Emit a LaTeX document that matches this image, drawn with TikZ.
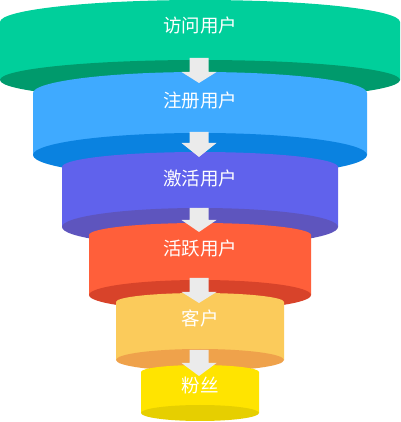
\documentclass[tikz,border=0pt]{standalone}
\usepackage{fontspec}
\usepackage{tikz}
\usepackage{xcolor}
\newfontfamily\cjk{Noto Sans CJK SC}
\definecolor{green}{HTML}{00CF9B}
\definecolor{greendark}{HTML}{009A6C}
\definecolor{blue}{HTML}{3FAAFF}
\definecolor{bluedark}{HTML}{0A82E0}
\definecolor{purple}{HTML}{6062EC}
\definecolor{purpledark}{HTML}{5E55BE}
\definecolor{red}{HTML}{FF5F3A}
\definecolor{reddark}{HTML}{D8432A}
\definecolor{orange}{HTML}{FBCB5B}
\definecolor{orangedark}{HTML}{EFA24B}
\definecolor{yellow}{HTML}{FFE400}
\definecolor{yellowdark}{HTML}{E6CF00}
\definecolor{arrowgray}{HTML}{EBEBEB}
% #1 front, #2 underside, #3 half width, #4 top y, #5 top ry, #6 bottom y, #7 bottom ry
\newcommand{\funneltier}[7]{%
  \fill[#1] (200-#3,#4) arc[start angle=180,end angle=0,x radius=#3,y radius=#5]
    -- (200+#3,#6) -- (200-#3,#6) -- cycle;
  \fill[#2] (200,#6) ellipse[x radius=#3,y radius=#7];
}
% #1 shaft top, #2 head start, #3 tip
\newcommand{\funnelarrow}[3]{%
  \fill[arrowgray] (189.5,#1) -- (208.5,#1) -- (208.5,#2) -- (216.5,#2)
    -- (199,#3) -- (181.5,#2) -- (189.5,#2) -- cycle;
}
\tikzset{stage/.style={text=white,font=\cjk\fontsize{18.5}{21}\selectfont,inner sep=0pt}}

\begin{document}
\begin{tikzpicture}[x=1pt,y=1pt]
		\useasboundingbox (0,0) rectangle (400,422);
		\funneltier{green}{greendark}{200}{400}{22}{342}{20}
		\funneltier{blue}{bluedark}{167}{329}{21}{267}{22}
		\funneltier{purple}{purpledark}{138}{255}{15}{195}{19}
		\funneltier{red}{reddark}{111}{187}{12}{127}{15}
		\funneltier{orange}{orangedark}{84}{120}{9}{62}{11}
		\funneltier{yellow}{yellowdark}{59}{50}{7}{9}{8}
		
		\funnelarrow{364}{350}{339}
		\funnelarrow{290}{279}{265}
		\funnelarrow{214}{202}{190}
		\funnelarrow{144}{130}{119}
		\funnelarrow{72}{59}{46}
		
		\node[stage] (visit) at (200,397) {访问用户};
		\node[stage] (register) at (200,322) {注册用户};
		\node[stage] (activate) at (200,244) {激活用户};
		\node[stage] (active) at (200,174) {活跃用户};
		\node[stage] (customer) at (200,104) {客户};
		\node[stage] (fans) at (200,37) {粉丝};
	\end{tikzpicture}
\end{document}
